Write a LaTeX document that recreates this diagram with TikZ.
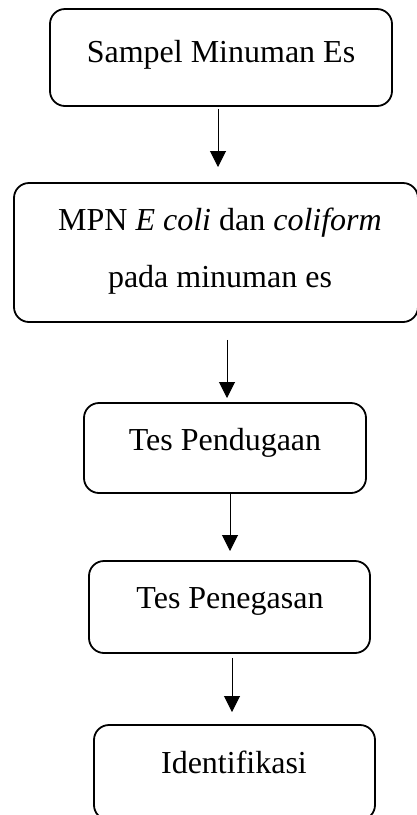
\documentclass[tikz,border=0pt]{standalone}
\usepackage{fontspec}
\setmainfont{Liberation Serif}
\usetikzlibrary{arrows.meta}
\begin{document}
\begin{tikzpicture}[x=1pt,y=-1pt,
  box/.style={draw, line width=1.8pt, rounded corners=15pt, inner sep=0pt},
  lbl/.style={anchor=base, inner sep=0pt, font=\fontsize{32}{38}\selectfont},
  arr/.style={line width=1pt, -{Triangle[width=16pt,length=16pt]}}]
\useasboundingbox (0,0) rectangle (417,815);
\clip (0,0) rectangle (417,815);
\fill[white] (0,0) rectangle (417,815);
% boxes
\node[box, minimum width=342pt, minimum height=97pt] (b1) at (221,57.5) {};
\node[box, minimum width=404pt, minimum height=139pt] (b2) at (216,252.5) {};
\node[box, minimum width=282pt, minimum height=90pt] (b3) at (225,448) {};
\node[box, minimum width=281pt, minimum height=92pt] (b4) at (229.5,607) {};
\node[box, minimum width=281pt, minimum height=95pt] (b5) at (234.5,772.5) {};
% labels
\node[lbl] (t1) at (221,62) {Sampel Minuman Es};
\node[lbl] (t2a) at (220,230) {MPN \textit{E coli} dan \textit{coliform}};
\node[lbl] (t2b) at (220,287) {pada minuman es};
\node[lbl] (t3) at (225,450) {Tes Pendugaan};
\node[lbl] (t4) at (230,608) {Tes Penegasan};
\node[lbl] (t5) at (234,773) {Identifikasi};
% arrows
\draw[arr] (b1.south -| 218,0) ++(0,2) -- (218,167);
\draw[arr, shorten <=17pt] (b2.south -| 227,0) -- (227,398);
\draw[arr] (b3.south -| 230,0) -- (230,551);
\draw[arr, shorten <=4pt] (b4.south -| 232,0) -- (232,712);
\end{tikzpicture}
\end{document}
